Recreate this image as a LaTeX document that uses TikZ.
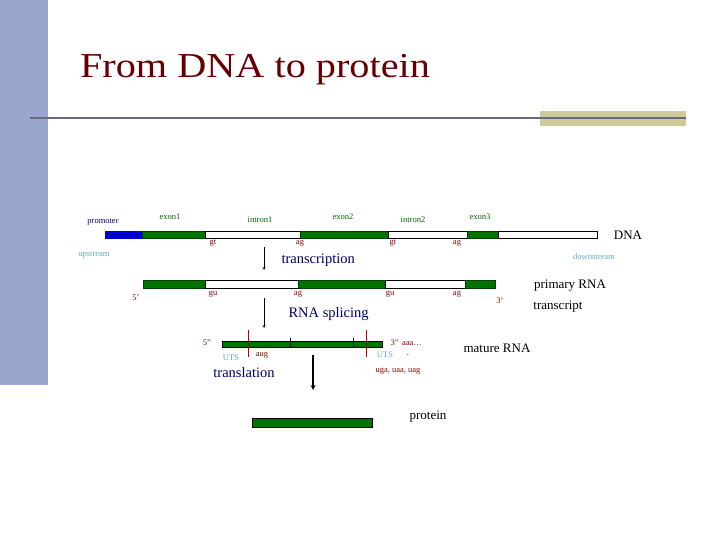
\documentclass[tikz,border=0pt]{standalone}
\usepackage{fontspec}
\setmainfont{Liberation Serif}
\definecolor{sidebar}{HTML}{99A6CE}
\definecolor{rule}{HTML}{6A6A80}
\definecolor{tan}{HTML}{CFCB98}
\begin{document}
\begin{tikzpicture}[x=1pt,y=-1pt,
 ex/.style={fill=green!45!black,draw=green!25!black,line width=0.5pt},
 wh/.style={fill=white,draw=black,line width=0.5pt},
 sm/.style={font=\fontsize{8.5}{10}\selectfont},
 red/.style={sm,text=red!55!black},
 lb/.style={sm,text=cyan!50!gray},
 ttl/.style={font=\fontsize{14.5}{16}\selectfont,text=blue!40!black},
 big/.style={font=\fontsize{13}{15}\selectfont}]
\useasboundingbox (0,0) rectangle (720,540);
\fill[sidebar] (0,0) rectangle (48,385);
\fill[tan] (540,111) rectangle (686,126);
\draw[rule,line width=1.3pt] (30,118) -- (686,118);
\node[anchor=west,font=\fontsize{35}{40}\selectfont,text=red!40!black,xscale=1.15] (title) at (76,70) {From DNA to protein};
% DNA
\draw[fill=blue!80!black,draw=blue!80!black] (105,231) rectangle (142,238);
\draw[ex] (142,231) rectangle (205,238);
\draw[wh] (205,231) rectangle (300,238);
\draw[ex] (300,231) rectangle (388,238);
\draw[wh] (388,231) rectangle (467,238);
\draw[ex] (467,231) rectangle (498,238);
\draw[wh] (498,231) rectangle (597,238);
\node[sm,text=blue!50!black] (pr) at (103,222) {promoter};
\node[sm,text=green!40!black] (e1) at (170,217) {exon1};
\node[sm,text=green!40!black] (i1) at (260,220) {intron1};
\node[sm,text=green!40!black] (e2) at (343,217) {exon2};
\node[sm,text=green!40!black] (i2) at (413,220) {intron2};
\node[sm,text=green!40!black] (e3) at (480,217) {exon3};
\node[red] (g1) at (213,243) {gt};
\node[red] (a1) at (300,243) {ag};
\node[red] (g2) at (393,243) {gt};
\node[red] (a2) at (457,243) {ag};
\node[big] (dna) at (628,235) {DNA};
\node[lb] (up) at (94,255) {upstream};
\node[lb] (down) at (594,257) {downstream};
\coordinate (t1) at (264,247); \coordinate (t2) at (264,270);
\draw[->,>=stealth] (t1) -- (t2);
\node[ttl,anchor=west] (tr) at (278,260) {transcription};
% primary
\draw[ex] (143,280) rectangle (205,288);
\draw[wh] (205,280) rectangle (298,288);
\draw[ex] (298,280) rectangle (385,288);
\draw[wh] (385,280) rectangle (465,288);
\draw[ex] (465,280) rectangle (495,288);
\node[red] (f5) at (136,298) {5'};
\node[red] (f3) at (500,301) {3'};
\node[red] (u1) at (213,294) {gu};
\node[red] (a3) at (298,294) {ag};
\node[red] (u2) at (390,294) {gu};
\node[red] (a4) at (457,294) {ag};
\node[big] (prim) at (570,286) {primary RNA};
\node[big] (trs) at (558,307) {transcript};
\coordinate (s1) at (264,298); \coordinate (s2) at (264,328);
\draw[->,>=stealth] (s1) -- (s2);
\node[ttl,anchor=west] (spl) at (285,314) {RNA splicing};
% mature
\draw[fill=green!45!black,draw=black,line width=0.6pt] (222,341) rectangle (382,347);
\draw (290,338) -- (290,347); \draw (353,338) -- (353,347);
\draw[red!70!black] (248,330) -- (248,357);
\draw[red!70!black] (366,330) -- (366,357);
\node[red] (m5) at (207,343) {5"};
\node[red,anchor=west] (m3) at (387,343) {3"\, aaa\ldots};
\node[lb] (uts1) at (231,358) {UTS};
\node[red] (aug) at (262,355) {aug};
\node[lb] (uts2) at (385,355) {UTS};
\node[sm] (dot) at (408,355) {.};
\node[red] (stop) at (398,371) {uga, uaa, uag};
\node[big] (mat) at (497,348) {mature RNA};
\node[ttl] (tl) at (244,373) {translation};
\coordinate (p1) at (313,355); \coordinate (p2) at (313,390);
\draw[->,>=stealth,line width=1.2pt] (p1) -- (p2);
% protein
\draw[fill=green!45!black,draw=black,line width=0.8pt] (252,418) rectangle (372,427);
\node[big] (prot) at (428,417) {protein};
\end{tikzpicture}
\end{document}
